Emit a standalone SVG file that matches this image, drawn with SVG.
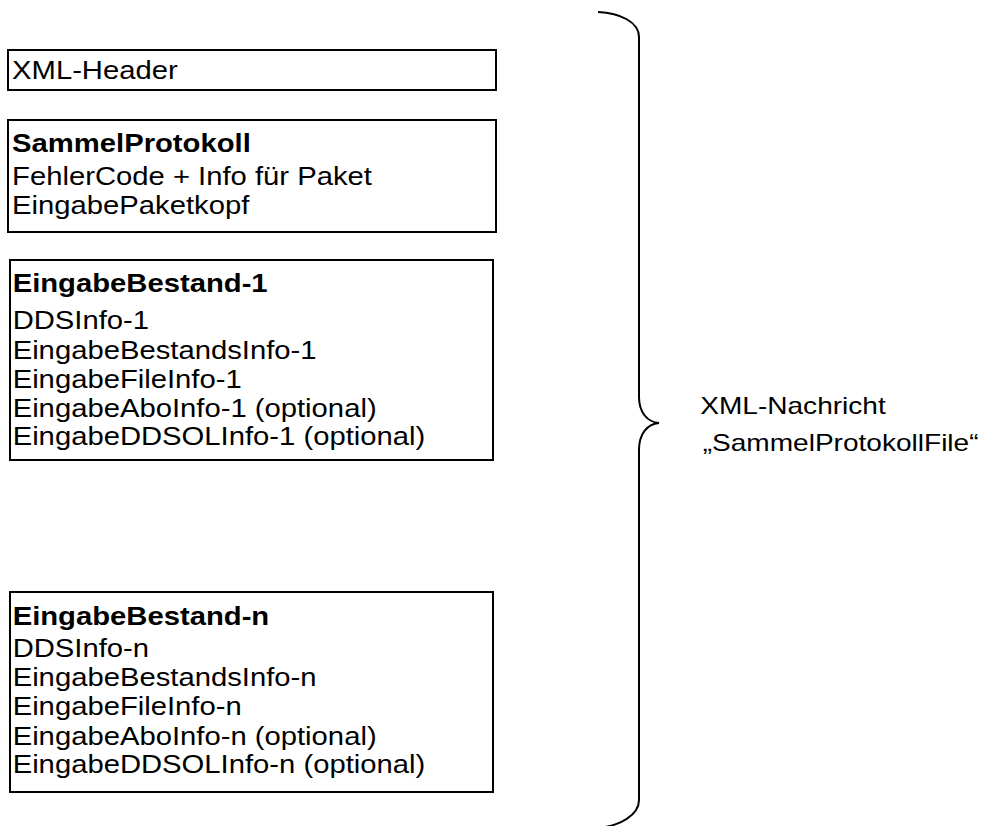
<svg xmlns="http://www.w3.org/2000/svg" width="995" height="826" viewBox="0 0 995 826">
<style>
.box{fill:#fff;stroke:#000;stroke-width:2}
text{font-family:"Liberation Sans",Arial,sans-serif;font-size:25px;fill:#000}
.lbl{font-size:23px}
.b{font-weight:bold}
.brace{fill:none;stroke:#000;stroke-width:2}
</style>
<rect width="995" height="826" fill="#fff"/>
<g id="xml-header">
<rect class="box" x="8" y="50" width="488" height="40"/>
<g transform="scale(1.17,1)">
<text x="10.3" y="79">XML-Header</text>
</g>
</g>
<g id="sammelprotokoll">
<rect class="box" x="8" y="120" width="488" height="112"/>
<g transform="scale(1.17,1)">
<text x="10.3" y="152" class="b">SammelProtokoll</text>
<text x="10.3" y="185">FehlerCode + Info für Paket</text>
<text x="10.3" y="214">EingabePaketkopf</text>
</g>
</g>
<g id="eingabebestand-1">
<rect class="box" x="10" y="260" width="483" height="200"/>
<g transform="scale(1.17,1)">
<text x="10.8" y="292" class="b">EingabeBestand-1</text>
<text x="10.8" y="329">DDSInfo-1</text>
<text x="10.8" y="359">EingabeBestandsInfo-1</text>
<text x="10.8" y="388">EingabeFileInfo-1</text>
<text x="10.8" y="417">EingabeAboInfo-1 (optional)</text>
<text x="10.8" y="445">EingabeDDSOLInfo-1 (optional)</text>
</g>
</g>
<g id="eingabebestand-n">
<rect class="box" x="10" y="592" width="483" height="200"/>
<g transform="scale(1.17,1)">
<text x="10.8" y="625" class="b">EingabeBestand-n</text>
<text x="10.8" y="657">DDSInfo-n</text>
<text x="10.8" y="686">EingabeBestandsInfo-n</text>
<text x="10.8" y="715">EingabeFileInfo-n</text>
<text x="10.8" y="745">EingabeAboInfo-n (optional)</text>
<text x="10.8" y="773">EingabeDDSOLInfo-n (optional)</text>
</g>
</g>
<g id="connectors">
<path class="brace" d="M598,12 C620,13 639,22 639,37 L639,397 C639,412 647,422 659,423 C647,424 639,434 639,450 L639,800 C639,815 620,826 598,828"/>
</g>
<g id="label">
<g transform="scale(1.22,1)">
<text class="lbl" x="574" y="414">XML-Nachricht</text>
<text class="lbl" x="576" y="451">„SammelProtokollFile“</text>
</g>
</g>
</svg>
